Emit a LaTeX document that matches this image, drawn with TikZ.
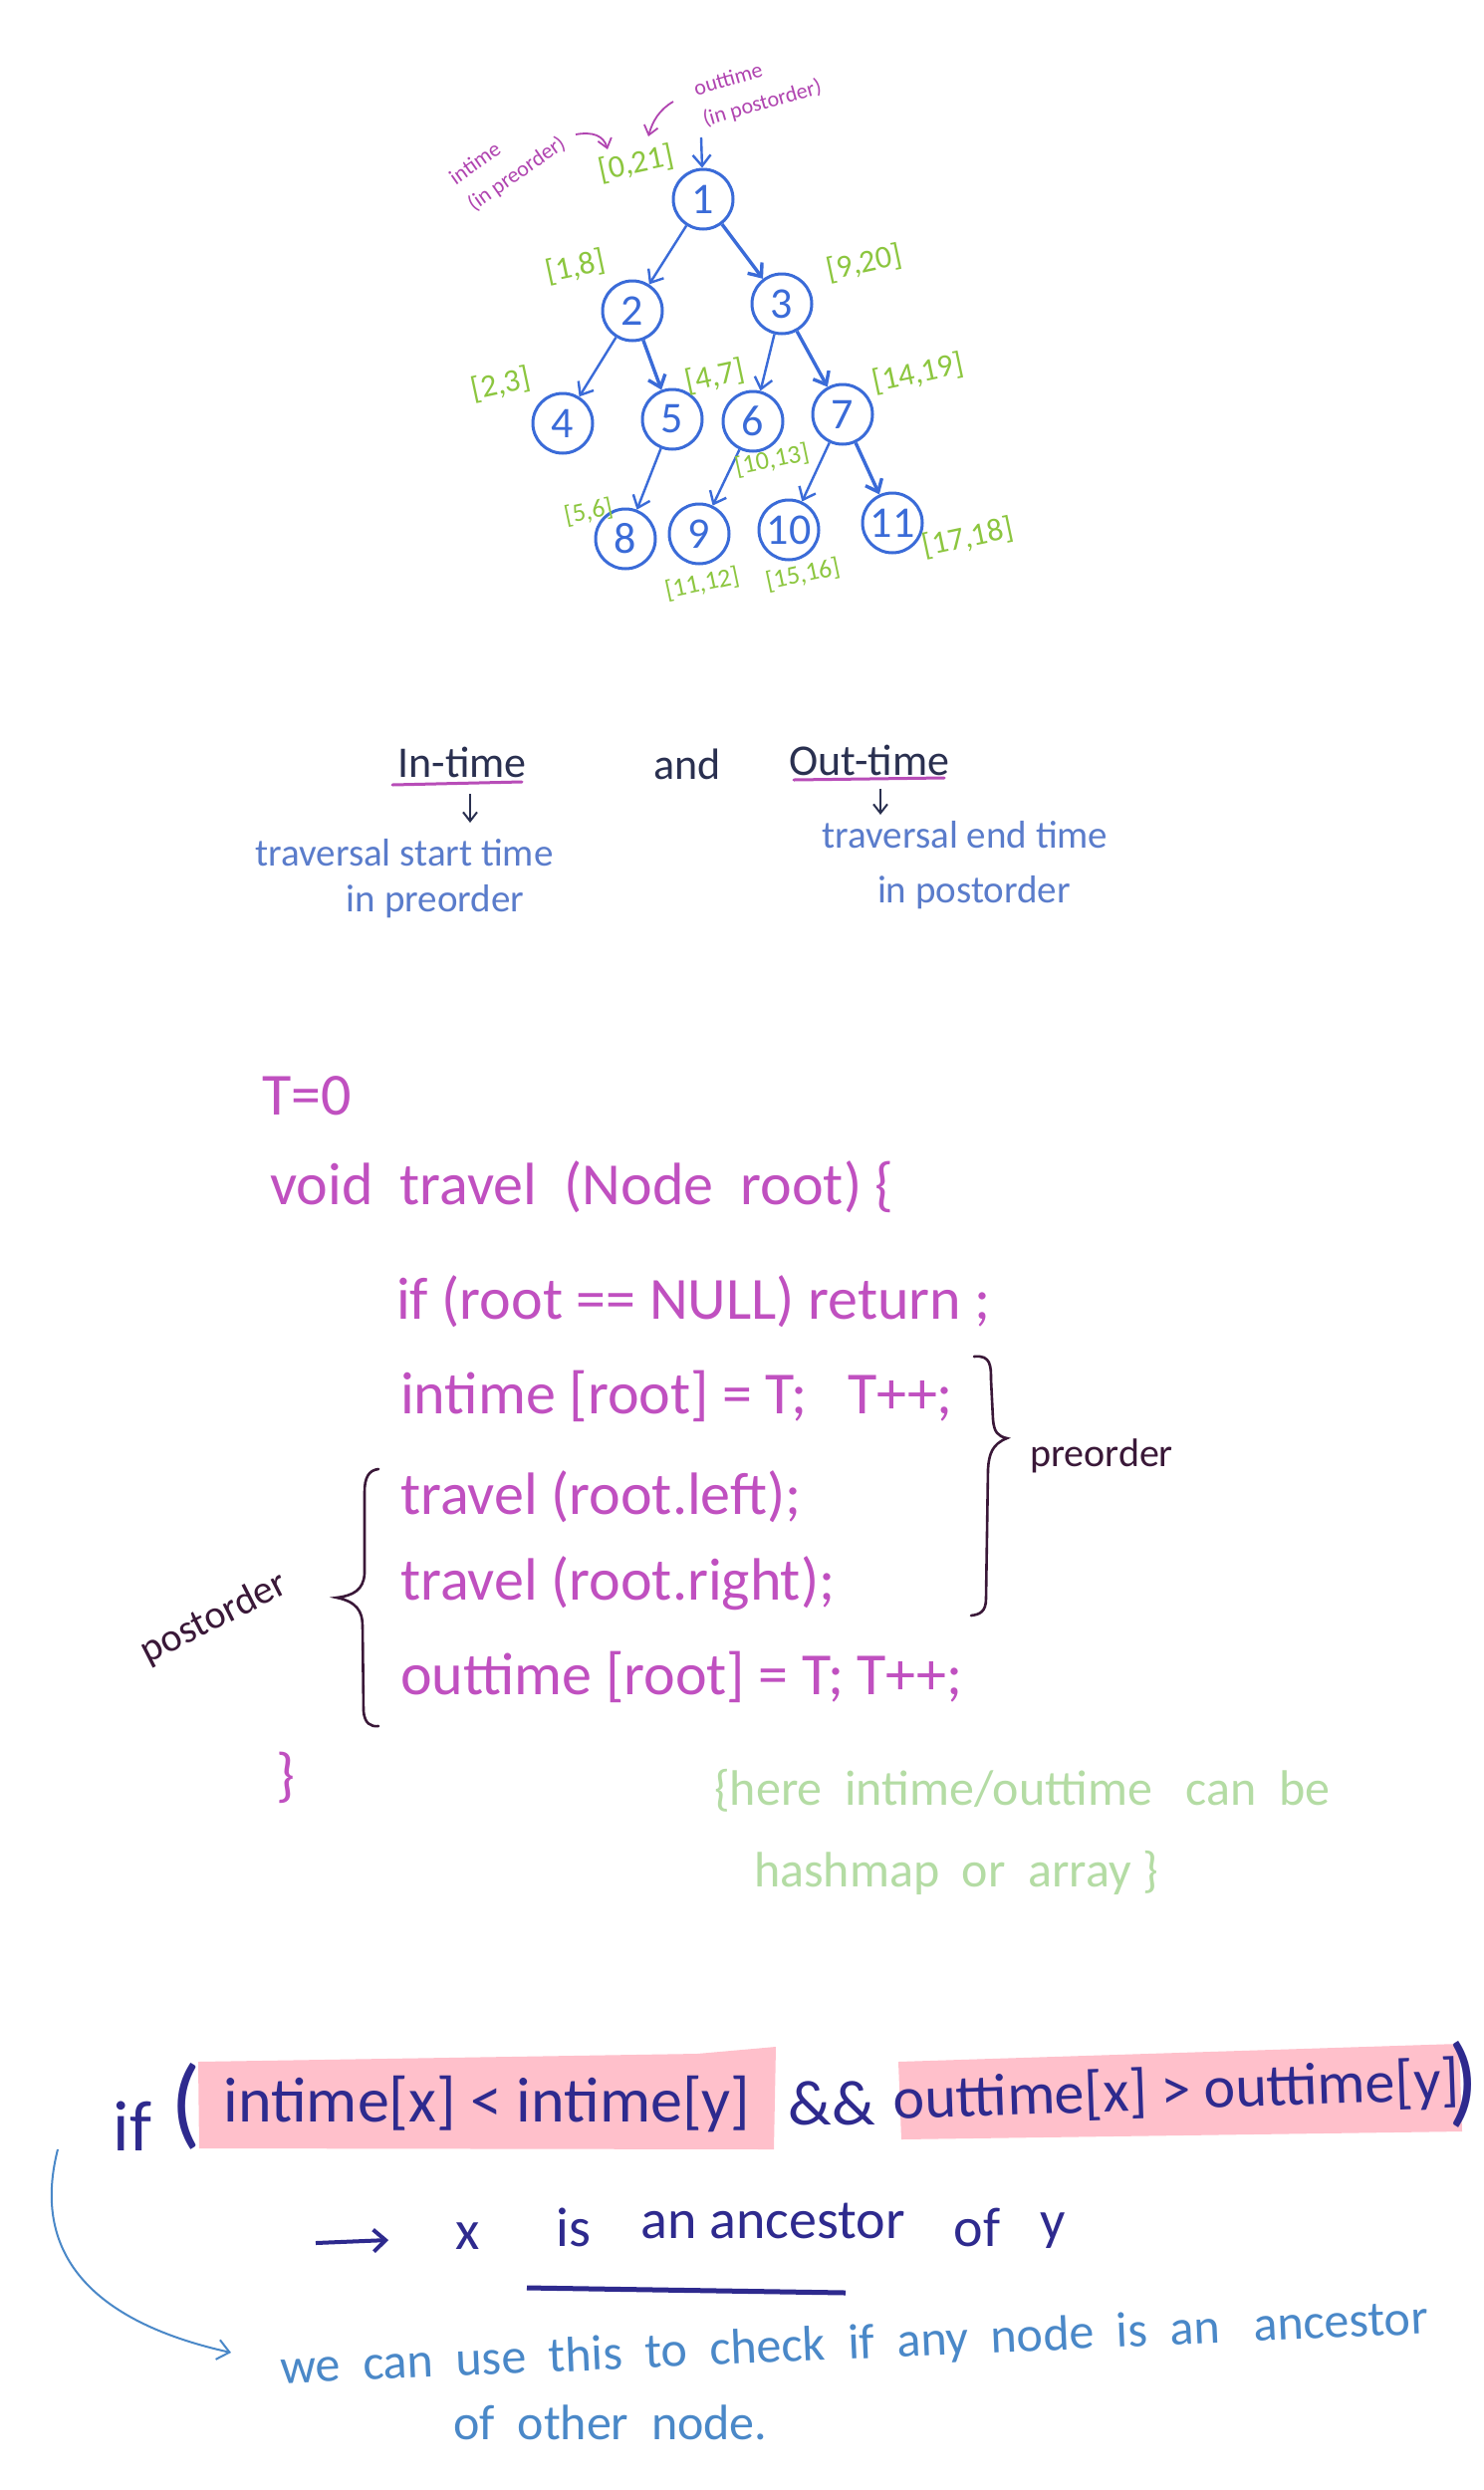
\documentclass[tikz,border=0pt]{standalone}
\usepackage{fontspec}
\setmainfont{Carlito}
\usetikzlibrary{arrows.meta}
\newcommand{\myfs}[1]{\fontsize{#1}{#1}\selectfont}
\definecolor{treeblue}{HTML}{3A6BD8}
\definecolor{lblgreen}{HTML}{8CC63F}
\definecolor{annmag}{HTML}{B044B0}
\definecolor{codemag}{HTML}{C050C0}
\definecolor{plum}{HTML}{3A1838}
\definecolor{hdnavy}{HTML}{2A3050}
\definecolor{ulmag}{HTML}{B84DB8}
\definecolor{travblue}{HTML}{5A7CCB}
\definecolor{notegreen}{HTML}{B4DCA4}
\definecolor{hlpink}{HTML}{FFC0CB}
\definecolor{condnavy}{HTML}{2E2A8E}
\definecolor{noteblue}{HTML}{4A88C8}
\begin{document}
\begin{tikzpicture}[x=1pt,y=-1pt,
 tnode/.style={circle,draw=treeblue,line width=3pt,minimum size=60pt,inner sep=0pt,text=treeblue,font=\myfs{44}},
 tedge/.style={draw=treeblue,line width=2.4pt,-{Straight Barb[length=11pt,width=18pt]}},
 tedgeb/.style={tedge,line width=3.4pt},
 lbl/.style={text=lblgreen,font=\myfs{32},rotate=12,inner sep=0pt},
 lbls/.style={lbl,font=\myfs{26}},
 ann/.style={text=annmag,font=\fontsize{22}{32}\selectfont,inner sep=0pt,align=left},
 annarrow/.style={draw=annmag,line width=1.8pt,-{Straight Barb[length=9pt,width=14pt]}},
 head/.style={text=hdnavy,font=\myfs{44},inner sep=1pt},
 trav/.style={text=travblue,font=\myfs{39},inner sep=1pt},
 uline/.style={draw=ulmag,line width=3pt,line cap=round},
 darrow/.style={draw=hdnavy,line width=2pt,-{Straight Barb[length=9pt,width=14pt]}},
 code/.style={text=codemag,font=\myfs{60},anchor=west,inner sep=0pt},
 brace/.style={draw=plum,line width=2.6pt,line cap=round},
 side/.style={text=plum,font=\myfs{40},inner sep=1pt},
 gnote/.style={text=notegreen,font=\myfs{50},anchor=west,inner sep=0pt},
 cond/.style={text=condnavy,font=\myfs{64},inner sep=0pt},
 res/.style={text=condnavy,font=\myfs{56},inner sep=0pt},
 bnote/.style={text=noteblue,font=\myfs{50},inner sep=0pt},
 barrow/.style={draw=noteblue,line width=2pt,-{Straight Barb[length=12pt,width=20pt]}}
]
\fill[white] (0,0) rectangle (1490,2500);
\useasboundingbox (0,0) rectangle (1490,2500);

% ---------- tree ----------
\node[tnode] (n1) at (706,200) {1};
\node[tnode] (n2) at (635,312) {2};
\node[tnode] (n3) at (785,305) {3};
\node[tnode] (n4) at (565,425) {4};
\node[tnode] (n5) at (675,421) {5};
\node[tnode] (n6) at (756,423) {6};
\node[tnode] (n7) at (846,416) {7};
\node[tnode] (n8) at (628,541) {8};
\node[tnode] (n9) at (702,536) {9};
\node[tnode] (n10) at (792,532) {10};
\node[tnode] (n11) at (896,525) {11};

\draw[tedge] (n1) -- (n2);
\draw[tedgeb] (n1) -- (n3);
\draw[tedge] (n2) -- (n4);
\draw[tedgeb] (n2) -- (n5);
\draw[tedge] (n3) -- (n6);
\draw[tedgeb] (n3) -- (n7);
\draw[tedge] (n5) -- (n8);
\draw[tedge] (n6) -- (n9);
\draw[tedge] (n7) -- (n10);
\draw[tedgeb] (n7) -- (n11);

\coordinate (rootin) at (704,138);
\draw[tedge] (rootin) -- (n1);

\node[lbl] (l0) at (639,164) {[0,21]};
\node[lbl] (l1) at (578,268) {[1,8]};
\node[lbl] (l2) at (868,264) {[9,20]};
\node[lbl] (l3) at (503,386) {[2,3]};
\node[lbl] (l4) at (718,378) {[4,7]};
\node[lbl] (l5) at (922,375) {[14,19]};
\node[lbls] (l6) at (775,462) {[10,13]};
\node[lbls] (l7) at (591,514) {[5,6]};
\node[lbls] (l8) at (705,586) {[11,12]};
\node[lbls] (l9) at (806,577) {[15,16]};
\node[lbl] (l10) at (972,540) {[17,18]};

\node[ann,rotate=35] (ain) at (510,162) {intime\\(in preorder)};
\node[ann,rotate=16] (aout) at (761,89) {outtime\\(in postorder)};
\coordinate (a1s) at (578,135);
\coordinate (a1e) at (610,150);
\draw[annarrow] (a1s) .. controls (595,132) and (606,136) .. (a1e);
\coordinate (a2s) at (676,102);
\coordinate (a2e) at (651,137);
\draw[annarrow] (a2s) .. controls (662,110) and (655,122) .. (a2e);

% ---------- in-time / out-time ----------
\node[head] (hin) at (464,765) {In-time};
\node[head] (hand) at (690,767) {and};
\node[head] (hout) at (873,763) {Out-time};
\coordinate (u1a) at (394,788);
\coordinate (u1b) at (524,785);
\draw[uline] (u1a) -- (u1b);
\coordinate (u2a) at (797,783);
\coordinate (u2b) at (948,781);
\draw[uline] (u2a) -- (u2b);
\node[trav] (t1) at (406,856) {traversal start time};
\node[trav] (t2) at (437,905) {in preorder};
\node[trav] (t3) at (969,838) {traversal end time};
\node[trav] (t4) at (978,896) {in postorder};
\coordinate (d1a) at (472,797);
\coordinate (d1b) at (472,826);
\draw[darrow] (d1a) -- (d1b);
\coordinate (d2a) at (884,792);
\coordinate (d2b) at (884,818);
\draw[darrow] (d2a) -- (d2b);

% ---------- code ----------
\node[code] (c0) at (263,1100) {T=0};
\node[code] (c1) at (271,1192) {void \ travel \ (Node \ root) \{};
\node[code] (c2) at (398,1307) {if (root == NULL) return ;};
\node[code] (c3) at (402,1402) {intime [root] = T; \ \ T++;};
\node[code] (c4) at (402,1503) {travel (root.left);};
\node[code] (c5) at (402,1590) {travel (root.right);};
\node[code] (c6) at (402,1684) {outtime [root] = T; T++;};
\node[code,anchor=center] (c7) at (287,1785) {\}};

\draw[brace] (978,1362) .. controls (995,1360) and (995,1372) .. (995,1385)
  -- (997,1425) .. controls (998,1438) and (1002,1442) .. (1011,1444)
  .. controls (996,1450) and (993,1460) .. (992,1475)
  -- (990,1605) .. controls (990,1618) and (984,1621) .. (975,1622);
\node[side] (pre) at (1106,1462) {preorder};

\draw[brace] (380,1475) .. controls (370,1476) and (366,1484) .. (366,1498)
  -- (366,1580) .. controls (365,1596) and (355,1602) .. (338,1604)
  .. controls (358,1608) and (364,1618) .. (364,1632)
  -- (365,1718) .. controls (366,1730) and (372,1734) .. (380,1733);
\node[side,rotate=27] (post) at (215,1625) {postorder};

% ---------- green note ----------
\node[gnote] (g1) at (717,1798) {\{here \ intime/outtime \ \ can \ be};
\node[gnote] (g2) at (757,1880) {hashmap \ or \ array \}};

% ---------- condition ----------
\fill[hlpink] (199,2070) -- (700,2062) -- (779,2055) -- (777,2158) -- (200,2157) -- cycle;
\fill[hlpink] (902,2070) -- (1465,2052) -- (1468,2140) -- (905,2148) -- cycle;
\node[cond,font=\myfs{72}] (cif) at (133,2135) {if};
\node[cond,font=\myfs{100}] (lp) at (187,2115) {(};
\node[cond] (cin) at (489,2113) {intime[x] < intime[y]};
\node[cond] (cand) at (835,2112) {\&\&};
\node[cond,font=\myfs{60},rotate=2] (cout) at (1181,2101) {outtime[x] > outtime[y]};
\node[cond,font=\myfs{100}] (rp) at (1470,2093) {)};

\coordinate (ra1) at (317,2252);
\coordinate (ra2) at (390,2249);
\draw[draw=condnavy,line width=4pt,-{Straight Barb[length=12pt,width=22pt]}] (ra1) -- (ra2);
\node[res] (rx) at (470,2245) {x};
\node[res] (ris) at (576,2236) {is};
\node[res] (ranc) at (776,2230) {an ancestor};
\node[res] (rof) at (981,2236) {of};
\node[res] (ry) at (1057,2240) {y};
\coordinate (ul1) at (529,2297);
\coordinate (ul2) at (849,2302);
\draw[draw=condnavy,line width=5pt] (ul1) -- (ul2);

\node[bnote,rotate=2.5] (bn1) at (858,2355) {we \ can \ use \ this \ to \ check \ if \ any \ node \ is \ an \ \ ancestor};
\node[bnote] (bn2) at (613,2432) {of \ other \ node.};
\coordinate (bs) at (58,2158);
\coordinate (be) at (232,2362);
\draw[barrow] (bs) .. controls (28,2275) and (110,2335) .. (be);
\end{tikzpicture}
\end{document}
